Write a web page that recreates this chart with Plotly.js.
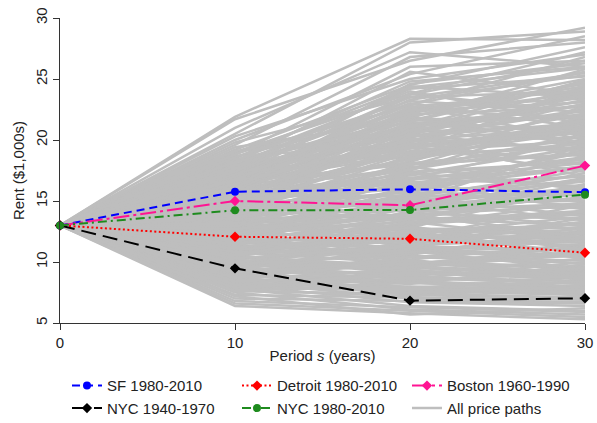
<!DOCTYPE html>
<html>
<head>
<meta charset="utf-8">
<script src="https://cdn.plot.ly/plotly-3.0.1.min.js"></script>
<style>
  html, body { margin: 0; padding: 0; background: #ffffff; }
  #chart { width: 597px; height: 423px; }
</style>
</head>
<body>
<div id="chart"></div>
<script>
// Periods (years) at which rents are observed
const years = [0, 10, 20, 30];
const startRent = 13;

// Observed rent paths ($1,000s)
const sf8010 = [13, 15.76, 15.96, 15.72];
const detroit8010 = [13, 12.07, 11.90, 10.76];
const boston6090 = [13, 15.00, 14.65, 17.90];
const nyc4070 = [13, 9.48, 6.83, 7.03];
const nyc8010 = [13, 14.24, 14.26, 15.52];

// Simulated price paths: rent at periods 10, 20 and 30 (all start at startRent)
const pricePaths = [
  [21.9, 28.3, 28.2], [21.7, 26.5, 29.2], [20.5, 28.0, 28.9], [20.0, 25.4, 28.5],
  [21.0, 27.2, 26.0], [19.6, 26.8, 28.0], [19.2, 24.5, 27.6], [20.3, 25.0, 27.0],
  [18.8, 26.0, 26.5], [19.0, 23.8, 27.2], [18.5, 24.8, 26.0], [19.8, 23.5, 25.5],
  [18.2, 22.9, 26.8], [17.9, 24.2, 25.2], [18.6, 22.4, 24.6], [17.5, 23.5, 24.0],
  [18.0, 21.8, 25.8], [17.2, 22.6, 23.4], [17.7, 21.0, 24.9], [16.9, 22.1, 22.7],
  [17.4, 20.4, 23.8], [16.6, 21.4, 22.0], [17.0, 19.8, 23.0], [16.3, 20.9, 24.3],
  [16.8, 19.3, 21.5], [16.0, 20.2, 22.4], [16.5, 18.8, 21.2], [15.7, 19.6, 20.6],
  [16.2, 18.2, 22.8], [15.4, 19.1, 19.9], [15.9, 17.7, 20.3], [15.1, 18.5, 21.7],
  [15.6, 17.2, 19.4], [14.8, 18.0, 18.8], [15.3, 16.8, 20.1], [14.5, 17.4, 18.2],
  [15.0, 16.2, 19.0], [14.2, 16.9, 17.6], [14.7, 15.7, 18.5], [13.9, 16.4, 17.0],
  [14.4, 15.2, 16.6], [13.6, 15.9, 17.9], [14.1, 14.8, 16.0], [13.3, 15.4, 15.5],
  [13.8, 14.4, 16.9], [13.0, 14.9, 15.0], [13.5, 13.9, 14.6], [12.7, 14.5, 15.8],
  [13.2, 13.5, 14.0], [12.4, 14.0, 13.5], [12.9, 13.0, 14.9], [12.1, 13.6, 13.0],
  [12.6, 12.6, 12.4], [11.8, 13.1, 13.9], [12.3, 12.1, 11.9], [11.5, 12.7, 12.8],
  [12.0, 11.7, 11.4], [11.2, 12.2, 12.0], [11.7, 11.2, 10.9], [10.9, 11.8, 11.6],
  [11.4, 10.8, 10.4], [10.6, 11.3, 11.0], [11.1, 10.4, 9.9], [10.3, 10.9, 10.6],
  [10.8, 9.9, 9.5], [10.0, 10.5, 10.1], [10.5, 9.5, 9.0], [9.7, 10.0, 9.6],
  [10.2, 9.1, 8.6], [9.4, 9.6, 9.2], [9.9, 8.7, 8.2], [9.1, 9.2, 8.8],
  [9.6, 8.3, 7.9], [8.8, 8.8, 8.4], [9.3, 7.9, 7.6], [8.5, 8.4, 8.0],
  [9.0, 7.6, 7.3], [8.2, 8.0, 7.7], [8.7, 7.3, 7.0], [7.9, 7.7, 7.4],
  [8.4, 7.0, 6.7], [7.6, 7.4, 7.1], [8.1, 6.7, 6.4], [7.3, 7.1, 6.9],
  [7.8, 6.4, 6.0], [7.0, 6.8, 6.6], [7.5, 6.1, 5.7], [6.8, 6.3, 5.9],
  [6.4, 5.8, 5.3], [7.2, 5.7, 6.2], [6.6, 6.0, 5.5],
  [18.4, 21.0, 23.2], [17.8, 23.0, 21.0], [17.1, 19.0, 24.5], [16.7, 21.9, 19.5],
  [16.1, 17.5, 21.9], [15.5, 20.6, 23.6], [15.2, 16.5, 17.8], [14.9, 19.4, 20.8],
  [14.6, 17.8, 15.9], [14.3, 15.0, 19.6], [14.0, 17.1, 18.4], [13.7, 14.6, 17.3],
  [13.4, 16.6, 14.3], [13.1, 12.8, 16.3], [12.8, 15.6, 16.7], [12.5, 13.3, 11.7],
  [12.2, 14.7, 14.4], [11.9, 11.5, 13.2], [11.6, 13.8, 12.2], [11.3, 10.6, 12.5],
  [11.0, 12.4, 10.7], [10.7, 11.0, 11.8], [10.4, 12.9, 10.2], [10.1, 9.8, 11.3],
  [9.8, 11.6, 9.3], [9.5, 9.0, 10.3], [9.2, 10.2, 8.5], [8.9, 8.2, 9.8],
  [8.6, 9.4, 7.8], [8.3, 7.8, 8.9], [8.0, 8.6, 7.2], [7.7, 7.2, 8.1],
  [18.9, 22.8, 20.0], [16.4, 23.8, 22.2], [15.8, 21.2, 18.6], [14.0, 19.9, 24.0],
  [13.0, 18.3, 21.4], [12.3, 16.0, 19.2], [11.4, 15.3, 17.5], [10.6, 14.2, 15.3],
  [9.9, 12.0, 14.7], [9.0, 11.4, 13.6], [8.4, 10.7, 12.6], [17.6, 20.0, 17.0],
  [15.3, 13.4, 16.4], [13.8, 11.9, 12.7], [12.0, 9.7, 10.8], [10.2, 8.5, 9.1],
  [19.4, 21.7, 21.8], [18.1, 25.6, 23.7], [16.9, 24.6, 26.3], [15.6, 22.3, 25.0],
  [19.1, 20.5, 19.0], [18.7, 19.6, 22.1], [18.3, 24.0, 21.3], [17.9, 19.9, 20.2],
  [17.5, 21.6, 24.7], [17.3, 18.6, 19.7], [16.9, 20.7, 21.1], [16.6, 18.0, 18.9],
  [16.4, 22.4, 23.1], [16.1, 19.5, 17.4], [15.8, 18.4, 22.6], [15.5, 16.9, 16.2],
  [15.3, 20.0, 21.0], [15.0, 17.6, 20.5], [14.8, 15.5, 17.1], [14.6, 18.9, 19.3],
  [14.4, 16.3, 15.4], [14.2, 17.9, 22.0], [14.0, 14.2, 14.8], [13.8, 16.8, 18.1],
  [13.6, 13.7, 15.7], [13.4, 17.6, 19.8], [13.2, 14.3, 12.9], [13.0, 16.1, 17.7],
  [12.8, 12.3, 13.7], [12.6, 15.1, 15.9], [12.4, 11.9, 12.1], [12.2, 13.9, 16.8],
  [12.0, 12.9, 11.1], [11.8, 14.4, 15.2], [11.6, 11.1, 10.5], [11.4, 13.2, 14.1],
  [11.2, 10.2, 11.5], [11.0, 12.0, 13.3], [10.8, 10.9, 9.4], [10.6, 12.6, 12.3],
  [10.4, 9.7, 10.9], [10.2, 11.4, 11.9], [10.0, 9.3, 8.8], [9.8, 10.8, 12.0],
  [9.6, 9.9, 9.1], [9.4, 8.6, 10.0], [9.2, 9.8, 8.3], [9.0, 8.4, 9.4],
  [8.8, 9.9, 10.8], [8.6, 7.9, 8.4], [8.4, 8.9, 9.5], [8.2, 7.5, 7.9],
  [8.0, 9.1, 8.7], [7.8, 7.8, 7.5],
  [17.0, 22.9, 25.6], [16.2, 21.3, 20.9], [15.4, 19.8, 24.2], [14.7, 20.8, 22.9],
  [14.1, 18.7, 20.7], [13.5, 17.3, 16.0], [12.9, 16.7, 18.6], [12.3, 15.3, 13.8],
  [11.7, 14.9, 16.1], [11.1, 13.5, 15.7], [10.5, 13.3, 14.2], [9.9, 12.5, 13.1],
  [9.3, 11.7, 12.4], [8.7, 10.4, 11.2], [8.1, 9.6, 10.6], [18.0, 20.3, 22.5],
  [16.6, 19.7, 18.0], [15.1, 16.0, 14.5], [13.9, 15.1, 13.4], [12.7, 13.9, 12.0],
  [11.5, 12.8, 11.0], [10.3, 11.3, 9.8], [9.1, 10.1, 9.0], [7.9, 8.7, 8.2],
  [7.6, 8.3, 7.7],
  [17.2, 21.2, 22.9], [16.8, 22.7, 24.1], [18.6, 23.2, 22.3], [17.6, 24.4, 23.5],
  [16.0, 21.7, 20.4], [15.2, 20.3, 21.4], [16.7, 23.3, 25.3], [18.2, 21.5, 19.8],
  [15.9, 22.0, 23.9], [14.9, 21.1, 22.1], [17.9, 22.2, 24.4], [16.4, 20.1, 19.2],
  [15.6, 18.9, 21.6], [14.4, 19.3, 20.9], [13.6, 18.1, 19.5], [17.4, 23.7, 26.5],
  [18.8, 24.3, 25.9], [16.1, 22.5, 21.8], [15.0, 21.5, 24.8], [14.6, 20.5, 23.3]
];

// All simulated paths go into one trace, separated by gaps
const pathX = [];
const pathY = [];
pricePaths.forEach(function (p) {
  const ys = [startRent].concat(p);
  for (let i = 0; i < years.length; i++) {
    pathX.push(years[i]);
    pathY.push(ys[i]);
  }
  pathX.push(null);
  pathY.push(null);
});

const FONT = 'Arial, "Liberation Sans", sans-serif';

function observed(name, values, color, dash, symbol, size, rank) {
  return {
    type: 'scatter',
    mode: 'lines+markers',
    name: name,
    x: years,
    y: values,
    line: { color: color, width: 2, dash: dash },
    marker: { color: color, symbol: symbol, size: size },
    cliponaxis: false,
    legendrank: rank,
    hoverinfo: 'x+y+name'
  };
}

const traces = [
  {
    type: 'scatter',
    mode: 'lines',
    name: 'All price paths',
    x: pathX,
    y: pathY,
    connectgaps: false,
    line: { color: '#bebebe', width: 2.5 },
    legendrank: 6,
    hoverinfo: 'skip'
  },
  observed('SF 1980-2010', sf8010, '#0000ff', '8px,5px', 'circle', 8, 1),
  observed('Detroit 1980-2010', detroit8010, '#ff0000', '2px,2.5px', 'diamond', 8, 2),
  observed('Boston 1960-1990', boston6090, '#ff1493', '16px,4px,3px,4px', 'diamond', 8, 3),
  observed('NYC 1940-1970', nyc4070, '#000000', '15px,7px', 'diamond', 8, 4),
  observed('NYC 1980-2010', nyc8010, '#1e8b1e', '9px,4px,2px,4px', 'circle', 8, 5)
];

const axisCommon = {
  showgrid: false,
  zeroline: false,
  showline: true,
  linecolor: '#333333',
  linewidth: 1,
  ticks: 'outside',
  ticklen: 6,
  tickwidth: 1,
  tickcolor: '#333333',
  tickfont: { family: FONT, size: 15, color: '#222222' }
};

const layout = {
  width: 597,
  height: 423,
  margin: { l: 60, r: 12, t: 18, b: 100, autoexpand: false },
  paper_bgcolor: '#ffffff',
  plot_bgcolor: '#ffffff',
  font: { family: FONT, size: 15, color: '#222222' },
  showlegend: true,
  xaxis: Object.assign({}, axisCommon, {
    range: [0, 30],
    tickvals: [0, 10, 20, 30],
    title: { text: 'Period <i>s</i> (years)', font: { family: FONT, size: 15, color: '#222222' }, standoff: 0 }
  }),
  yaxis: Object.assign({}, axisCommon, {
    range: [5, 30],
    tickvals: [5, 10, 15, 20, 25, 30],
    tickangle: -90,
    title: { text: 'Rent ($1,000s)', font: { family: FONT, size: 15, color: '#222222' }, standoff: 4 }
  }),
  legend: {
    orientation: 'h',
    x: 0.0133,
    xanchor: 'left',
    y: -0.152,
    yanchor: 'top',
    entrywidth: 125,
    entrywidthmode: 'pixels',
    traceorder: 'normal',
    font: { family: FONT, size: 15, color: '#222222' },
    bgcolor: 'rgba(0,0,0,0)',
    borderwidth: 0
  }
};

Plotly.newPlot('chart', traces, layout, { displayModeBar: false, staticPlot: true });
</script>
</body>
</html>
